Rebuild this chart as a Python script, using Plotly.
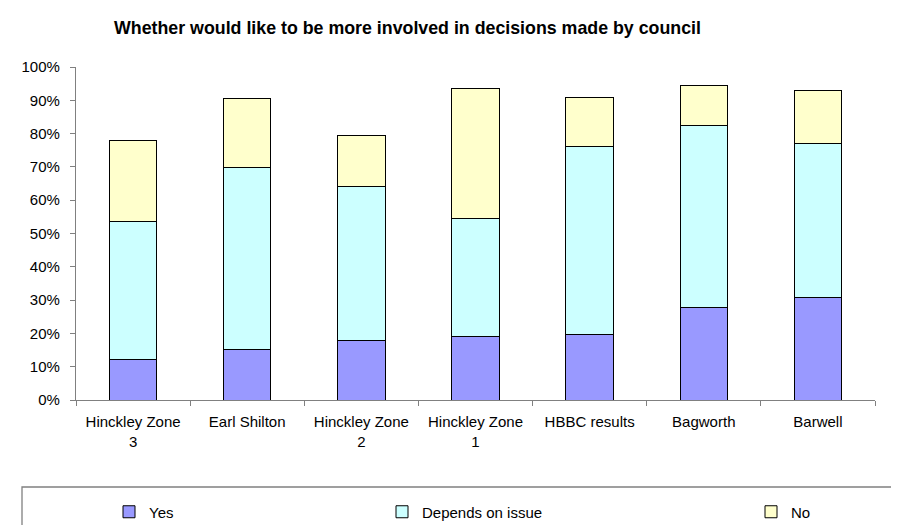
import plotly.graph_objects as go

categories = ["Hinckley Zone<br>3", "Earl Shilton", "Hinckley Zone<br>2", "Hinckley Zone<br>1",
              "HBBC results", "Bagworth", "Barwell"]
yes_vals = [0.122, 0.151, 0.180, 0.191, 0.198, 0.278, 0.307]
depends_vals = [0.414, 0.548, 0.460, 0.355, 0.563, 0.547, 0.464]
no_vals = [0.242, 0.207, 0.153, 0.388, 0.148, 0.120, 0.157]

series = [("Yes", yes_vals, "#9999FF", "legend"),
          ("Depends on issue", depends_vals, "#CCFFFF", "legend2"),
          ("No", no_vals, "#FFFFCC", "legend3")]

W, H = 899, 525
L, R, T, B = 68, 32, 59, 133
pw, ph = W - L - R, H - T - B

def px_x(p):
    return (p - L) / pw

def px_y(p):
    return (H - B - p) / ph

fig = go.Figure()
for name, vals, color, lg in series:
    fig.add_trace(go.Bar(
        x=categories, y=vals, name=name,
        marker=dict(color=color, line=dict(color="#000000", width=1)),
        width=0.415, legend=lg,
    ))

font = "Liberation Sans, Arial, sans-serif"
leg_common = dict(orientation="h", xanchor="left", yanchor="middle",
                  font=dict(family=font, size=15, color="#000000"),
                  bgcolor="rgba(0,0,0,0)", borderwidth=0, xref="paper", yref="paper")

fig.update_layout(
    width=W, height=H,
    margin=dict(l=L, r=R, t=T, b=B, autoexpand=False),
    paper_bgcolor="#FFFFFF", plot_bgcolor="#FFFFFF",
    barmode="stack", bargap=0.585,
    title=dict(text="<b>Whether would like to be more involved in decisions made by council</b>",
               font=dict(family=font, size=17.8, color="#000000"),
               x=399.5 / W, xanchor="center", xref="container",
               y=1 - 20 / H, yanchor="middle", yref="container"),
    xaxis=dict(showline=True, linecolor="#808080", linewidth=1.3,
               ticks="outside", tickson="boundaries", ticklen=5, tickcolor="#808080",
               ticklabelstandoff=8,
               tickfont=dict(family=font, size=15, color="#000000"),
               showgrid=False, fixedrange=True),
    yaxis=dict(range=[0, 1], dtick=0.1, tickformat=".0%",
               showline=True, linecolor="#808080", linewidth=1.3,
               ticks="outside", ticklen=5, tickcolor="#808080",
               ticklabelstandoff=7,
               tickfont=dict(family=font, size=15, color="#000000"),
               showgrid=False, zeroline=False, fixedrange=True),
    legend=dict(x=px_x(101), y=px_y(504), **leg_common),
    legend2=dict(x=px_x(374), y=px_y(504), **leg_common),
    legend3=dict(x=px_x(743), y=px_y(504), **leg_common),
    shapes=[dict(type="rect", xref="paper", yref="paper",
                 x0=px_x(14), x1=px_x(898), y0=px_y(479), y1=px_y(523.5),
                 line=dict(color="#808080", width=1.3), fillcolor="rgba(0,0,0,0)")],
    showlegend=True,
)

fig.write_html("out.html")
